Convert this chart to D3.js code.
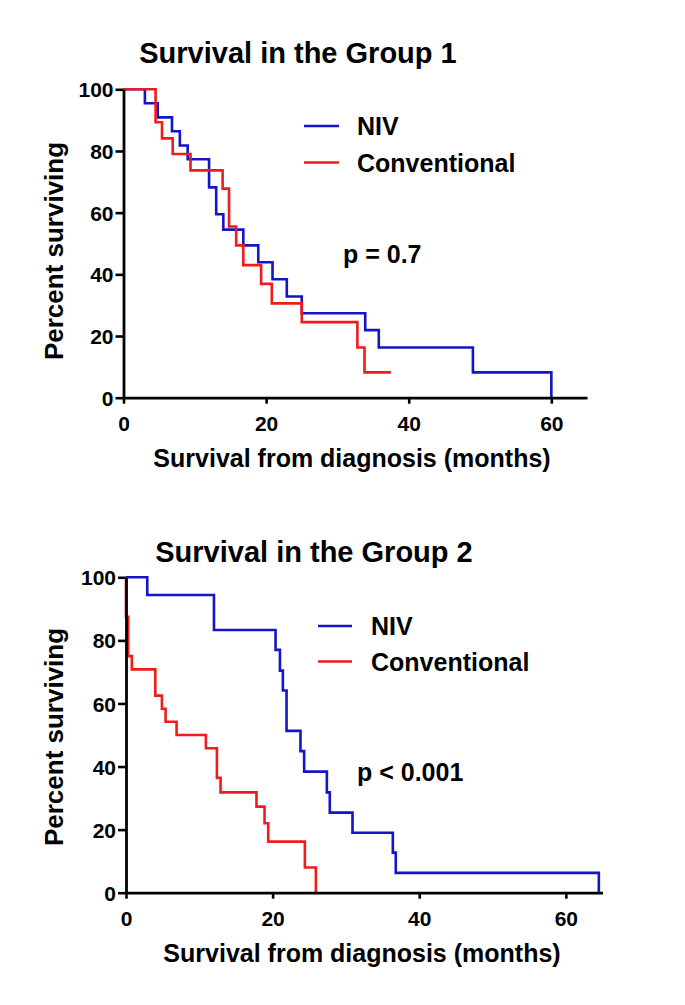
<!DOCTYPE html>
<html>
<head>
<meta charset="utf-8">
<script src="https://cdn.jsdelivr.net/npm/d3@7"></script>
<style>
  html, body { margin: 0; padding: 0; background: #fff; }
  svg text { font-family: "Liberation Sans", Arial, sans-serif; font-weight: bold; fill: #000; }
</style>
</head>
<body>
<svg id="chart" width="685" height="1005"></svg>
<script>
// ---------- DATA ----------
const seriesNames = ["NIV", "Conventional"];
const titles = ["Survival in the Group 1", "Survival in the Group 2"];
const pLabels = ["p = 0.7", "p < 0.001"];
const xTicks = [0, 20, 40, 60];
const yTicks = [0, 20, 40, 60, 80, 100];
const xLabel = "Survival from diagnosis (months)";
const yLabel = "Percent surviving";

// Group 1 - NIV
const g1NivTimes = [0, 3.0, 4.8, 6.8, 7.9, 9.0, 12.0, 13.0, 14.0, 16.8, 18.9, 20.9, 22.9, 25.0, 33.9, 35.8, 49.0, 60.0];
const g1NivSurv  = [100, 95.5, 90.9, 86.4, 81.8, 77.3, 68.2, 59.5, 54.5, 49.4, 43.9, 38.4, 32.8, 27.4, 21.9, 16.3, 8.2, 0];
// Group 1 - Conventional
const g1ConvTimes = [0, 4.5, 5.4, 6.9, 9.4, 13.9, 14.8, 15.8, 16.8, 19.3, 20.8, 25.0, 32.8, 33.8, 37.5];
const g1ConvSurv  = [100, 89.3, 84.1, 79.0, 73.7, 67.8, 55.5, 49.4, 43.0, 36.9, 30.6, 24.5, 16.3, 8.2, 8.2];
// Group 2 - NIV
const g2NivTimes = [0, 2.9, 12.0, 20.4, 21.0, 21.4, 21.9, 23.8, 24.3, 27.4, 27.8, 30.9, 36.4, 36.8, 64.5];
const g2NivSurv  = [100, 94.4, 83.3, 77.0, 70.4, 64.1, 51.3, 44.9, 38.4, 31.8, 25.4, 19.0, 12.7, 6.3, 0];
// Group 2 - Conventional
const g2ConvTimes = [0, 0, 0.3, 0.8, 4.0, 4.9, 5.4, 6.9, 10.9, 12.4, 12.9, 17.8, 18.9, 19.4, 24.4, 25.9];
const g2ConvSurv  = [100, 87.5, 75.0, 70.8, 62.5, 58.3, 54.2, 50.0, 45.8, 36.4, 31.8, 27.3, 22.0, 16.2, 8.0, 0];

// ---------- LAYOUT ----------
const COLORS = ["#1414c8", "#ee1c1c"];
const panels = [
  { x0: 123.5, x1: 587, yTop: 89.3, yBot: 397.7,
    title: { x: 298, y: 63 }, legend: { lx0: 304, lx1: 339, tx: 357, y0: 126, y1: 162.5 },
    p: { x: 343, y: 263 }, xlab: { x: 352, y: 467 }, ylab: { x: 63, y: 251 }, tickLabY: 431,
    curves: [[g1NivTimes, g1NivSurv], [g1ConvTimes, g1ConvSurv]] },
  { x0: 126, x1: 602.5, yTop: 577.3, yBot: 892.7,
    title: { x: 314, y: 562 }, legend: { lx0: 318, lx1: 352, tx: 371, y0: 626, y1: 661.5 },
    p: { x: 357, y: 781 }, xlab: { x: 362, y: 962 }, ylab: { x: 63, y: 737 }, tickLabY: 926,
    curves: [[g2NivTimes, g2NivSurv], [g2ConvTimes, g2ConvSurv]] }
];

const svg = d3.select("#chart");

panels.forEach((P, i) => {
  const x = d3.scaleLinear().domain([0, 65]).range([P.x0, P.x1]);
  const y = d3.scaleLinear().domain([0, 100]).range([P.yBot, P.yTop]);
  const g = svg.append("g");

  // title
  g.append("text").attr("x", P.title.x).attr("y", P.title.y)
    .attr("text-anchor", "middle").style("font-size", "29px").text(titles[i]);

  // curves
  const line = d3.line().x(d => x(d[0])).y(d => y(d[1])).curve(d3.curveStepAfter);
  P.curves.forEach((c, k) => {
    const pts = c[0].map((t, j) => [t, c[1][j]]);
    g.append("path").datum(pts).attr("d", line)
      .attr("fill", "none").attr("stroke", COLORS[k]).attr("stroke-width", 2.6)
      .attr("stroke-linejoin", "miter");
  });

  // axes
  const xAxis = d3.axisBottom(x).tickValues(xTicks).tickSize(6).tickSizeOuter(0).tickPadding(4);
  const yAxis = d3.axisLeft(y).tickValues(yTicks).tickSize(8).tickSizeOuter(0).tickPadding(2);
  const gx = g.append("g").attr("transform", `translate(0,${P.yBot})`).call(xAxis);
  const gy = g.append("g").attr("transform", `translate(${P.x0},0)`).call(yAxis);
  [gx, gy].forEach(ax => {
    ax.select(".domain").attr("stroke", "#000").attr("stroke-width", 2.8);
    ax.selectAll(".tick line").attr("stroke", "#000").attr("stroke-width", 2.6);
    ax.selectAll(".tick text").style("font-size", "21px").style("font-family", "'Liberation Sans', Arial, sans-serif")
      .style("font-weight", "bold").attr("fill", "#000");
  });
  gx.selectAll(".tick text").attr("dy", null).attr("y", P.tickLabY - P.yBot);
  gy.selectAll(".tick text").attr("dy", "0.36em");

  // axis labels
  g.append("text").attr("x", P.xlab.x).attr("y", P.xlab.y).attr("text-anchor", "middle")
    .style("font-size", "25px").text(xLabel);
  g.append("text").attr("transform", `translate(${P.ylab.x},${P.ylab.y}) rotate(-90)`)
    .attr("text-anchor", "middle").style("font-size", "26px").text(yLabel);

  // legend
  [P.legend.y0, P.legend.y1].forEach((ly, k) => {
    g.append("line").attr("x1", P.legend.lx0).attr("x2", P.legend.lx1).attr("y1", ly).attr("y2", ly)
      .attr("stroke", COLORS[k]).attr("stroke-width", 2.6);
    g.append("text").attr("x", P.legend.tx).attr("y", ly).attr("dy", "0.36em")
      .style("font-size", "25px").text(seriesNames[k]);
  });

  // p value
  g.append("text").attr("x", P.p.x).attr("y", P.p.y).style("font-size", "25px").text(pLabels[i]);
});
</script>
</body>
</html>
